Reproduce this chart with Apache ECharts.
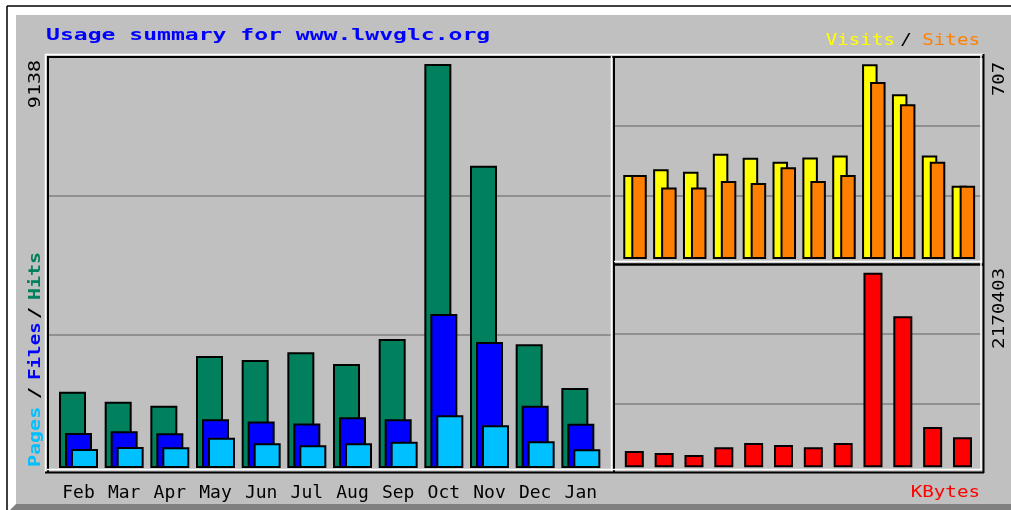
<!DOCTYPE html>
<html><head><meta charset="utf-8">
<script src="https://cdn.jsdelivr.net/npm/echarts@6/dist/echarts.min.js"></script>
<style>html,body{margin:0;padding:0;background:#fff;}#c{width:1011px;height:510px;}</style>
</head><body><div id="c"></div>
<script>
// ---- data ----
const months = ['Feb','Mar','Apr','May','Jun','Jul','Aug','Sep','Oct','Nov','Dec','Jan'];
const hits   = [1726,1500,1409,2533,2443,2617,2352,2918,9138,6838,2798,1810];
const files  = [792,830,785,1101,1052,1007,1147,1101,3483,2850,1409,1002];
const pages  = [430,475,468,686,559,513,559,595,1192,966,604,423];
const visits = [305,326,317,382,368,353,369,376,707,598,376,266];
const sites  = [305,260,260,283,276,333,283,305,643,562,353,266];
const kbytes = [182000,160000,137000,223000,271000,249000,223000,271000,2170403,1684000,450000,335000];
const titleText = 'Usage summary for www.lwvglc.org';

// ---- style ----
const FONT = '"DejaVu Sans Mono", monospace';
const C = {panel:'#C0C0C0', hits:'#00805C', files:'#0000FF', pages:'#00C0FF',
  visits:'#FFFF00', sites:'#FF8000', kbytes:'#FF0000', grid:'#808080'};

function txt(x, y, text, fill, o) {
  o = o || {};
  const font = (o.bold ? 'bold ' : '') + (o.size || 16) + 'px ' + FONT;
  const al = o.align || 'left';
  return {type:'text', x:x, y:y, z:100, silent:true,
    rotation: o.rot || 0, scaleX: o.sx || 1, scaleY: o.sy || 1,
    style:{text:text, fill:fill, font:font, textAlign:al, align:al,
      textVerticalAlign:'middle', verticalAlign:'middle'}};
}
function ln(x1, y1, x2, y2, color, w) {
  return {type:'line', z:100, silent:true, shape:{x1:x1, y1:y1, x2:x2, y2:y2},
    style:{stroke:color, lineWidth:w}};
}
const V = Math.PI / 2;

const graphics = [
  // page frame
  {type:'rect', z:100, silent:true, shape:{x:0, y:0, width:1011, height:15}, style:{fill:'#fff'}},
  {type:'rect', z:100, silent:true, shape:{x:0, y:0, width:16, height:510}, style:{fill:'#fff'}},
  ln(7, 6, 1011, 6, '#000', 1.5),
  ln(7, 6, 7, 510, '#000', 1.5),
  {type:'polygon', z:100, silent:true, shape:{points:[[16,504],[1011,504],[1011,510],[10,510]]}, style:{fill:'#808080'}},
  // plot boxes: top/left
  ln(45, 54.5, 984, 54.5, '#fff', 1.5),
  ln(45.5, 54, 45.5, 473, '#fff', 1.5),
  ln(47, 57, 983, 57, '#000', 2),
  ln(48, 56, 48, 472, '#000', 2),
  // divider between left and right plots
  ln(611.5, 56, 611.5, 471, '#fff', 1.5),
  ln(614, 56, 614, 472, '#000', 2),
  // divider between right top / bottom
  ln(614, 261.5, 982, 261.5, '#fff', 1.5),
  ln(613, 264.5, 983, 264.5, '#000', 2.5),
  // bottom / right
  ln(47, 469.5, 982, 469.5, '#fff', 1.5),
  ln(45, 472.5, 984, 472.5, '#000', 2),
  ln(981, 56, 981, 470, '#fff', 1.5),
  ln(983.5, 54, 983.5, 473, '#000', 2),
  // title
  txt(46, 36, titleText, '#0000FF', {bold:true, size:15, sx:1.537}),
  // max labels
  txt(36, 60, String(Math.max.apply(null, hits)), '#000', {rot:V, align:'right', sx:1.25}),
  txt(1000, 62, String(Math.max.apply(null, visits)), '#000', {rot:V, align:'right', sx:1.18}),
  txt(1000, 268, String(Math.max.apply(null, kbytes)), '#000', {rot:V, align:'right', sx:1.2}),
  // left legend
  txt(36, 467, 'Pages', C.pages, {rot:V, bold:true, sx:1.25}),
  txt(36, 393, '/', '#000', {rot:V, bold:true, align:'center', sx:1.25}),
  txt(36, 380, 'Files', C.files, {rot:V, bold:true, sx:1.2}),
  txt(36, 313, '/', '#000', {rot:V, bold:true, align:'center', sx:1.25}),
  txt(36, 300, 'Hits', C.hits, {rot:V, bold:true, sx:1.25}),
  // right legends
  txt(895, 41, 'Visits', C.visits, {align:'right', sx:1.2}),
  txt(906, 41, '/', '#000', {align:'center', sx:1.2}),
  txt(980, 41, 'Sites', C.sites, {align:'right', sx:1.2}),
  txt(980, 493, 'KBytes', C.kbytes, {align:'right', sx:1.2})
];

const hiddenCat = (gi) => ({type:'category', gridIndex:gi, data:months, show:false});
const hiddenVal = (gi, max) => ({type:'value', gridIndex:gi, min:0, max:max, show:false});
const decorX = (gi) => ({type:'value', gridIndex:gi, show:false, min:0, max:1});
const decorY = (gi) => ({type:'value', gridIndex:gi, min:0, max:3, interval:1,
  axisLine:{show:false}, axisTick:{show:false}, axisLabel:{show:false},
  splitLine:{show:true, showMinLine:false, showMaxLine:false, lineStyle:{color:C.grid, width:1.5}}});

function bar(xi, data, color, bw, gap) {
  return {type:'bar', xAxisIndex:xi, yAxisIndex:xi, data:data, barWidth:bw, barGap:gap,
    silent:true, animation:false,
    itemStyle:{color:color, borderColor:'#000', borderWidth:2}};
}

const option = {
  backgroundColor: C.panel,
  animation: false,
  grid: [
    {left:55.67, width:548, top:57, height:411},   // hits/files/pages
    {left:620.1, width:358.2, top:57, height:202}, // visits/sites
    {left:619.4, width:358, top:266, height:201.3},// kbytes
    {left:48, width:563, top:57.1, height:416},    // guide lines
    {left:614, width:367, top:55.7, height:210},
    {left:614, width:367, top:264, height:210}
  ],
  xAxis: [
    {type:'category', gridIndex:0, data:months, axisLine:{show:false}, axisTick:{show:false},
      axisLabel:{interval:0, margin:16, color:'#000', fontSize:18, fontFamily:FONT}},
    hiddenCat(1), hiddenCat(2), decorX(3), decorX(4), decorX(5)
  ],
  yAxis: [
    hiddenVal(0, Math.max.apply(null, hits) * 1.0173),
    hiddenVal(1, Math.max.apply(null, visits) * 1.0375),
    hiddenVal(2, Math.max.apply(null, kbytes) * 1.0344),
    decorY(3), decorY(4), decorY(5)
  ],
  series: [
    bar(0, hits, C.hits, 27, '-77.8%'),
    bar(0, files, C.files, 27, '-77.8%'),
    bar(0, pages, C.pages, 27, '-77.8%'),
    bar(1, visits, C.visits, 15.5, '-48.4%'),
    bar(1, sites, C.sites, 15.5, '-48.4%'),
    bar(2, kbytes, C.kbytes, 19, '0%')
  ],
  graphic: graphics
};
const chart = echarts.init(document.getElementById('c'), null, {renderer:'canvas'});
chart.setOption(option);
</script></body></html>
